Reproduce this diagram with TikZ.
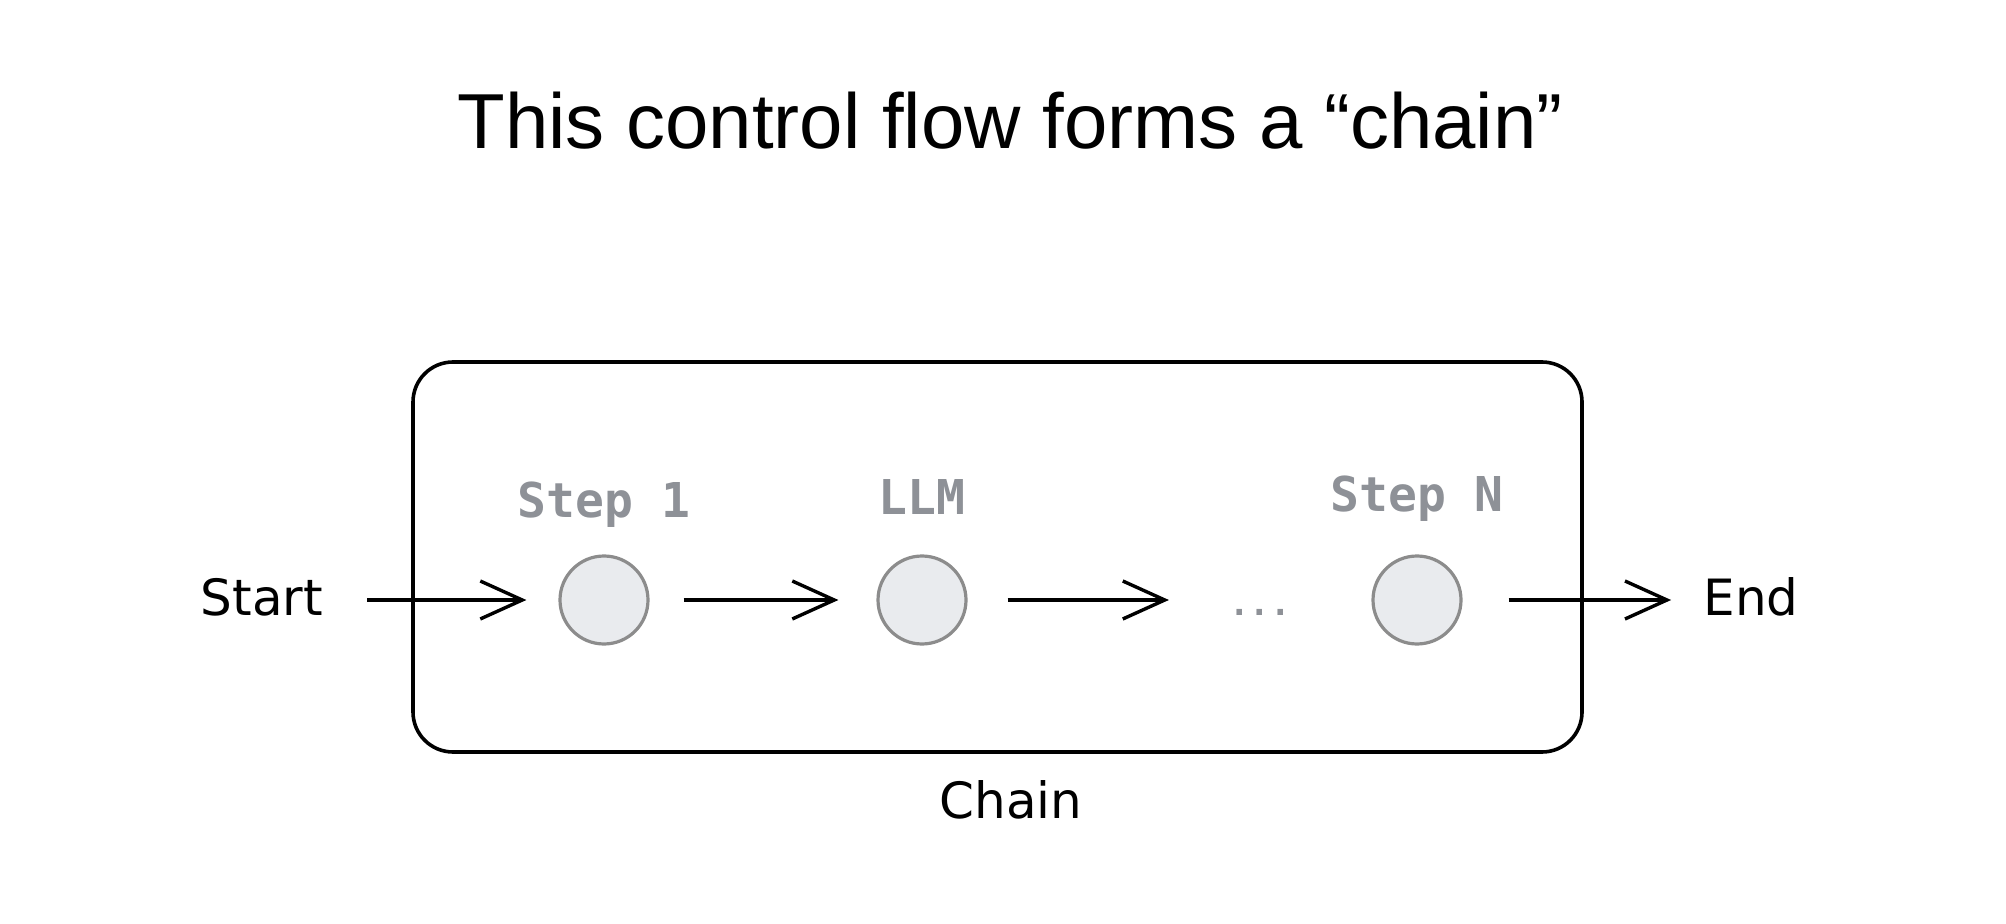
\documentclass[tikz,border=0pt]{standalone}
\usepackage{fontspec}
\setmainfont{Liberation Sans}
\newfontfamily\handfont{DejaVu Sans}
\newfontfamily\monofont{DejaVu Sans Mono}
\usetikzlibrary{arrows.meta,calc}
\definecolor{circfill}{HTML}{E9EBEE}
\definecolor{circdraw}{HTML}{8C8C8C}
\definecolor{labgray}{HTML}{8E9197}
\begin{document}
\begin{tikzpicture}[x=0.5pt,y=-0.5pt,
  stepnode/.style={circle,draw=circdraw,fill=circfill,line width=1.6pt,minimum size=44pt,inner sep=0pt},
  steplabel/.style={text=labgray,font=\monofont\bfseries\fontsize{24}{28}\selectfont,inner sep=0pt},
  handtext/.style={font=\handfont\fontsize{25}{30}\selectfont,inner sep=0pt},
  flow/.style={line width=1.7pt,-{Straight Barb[length=21pt,width=19pt,line width=1.7pt]}},
  chainbox/.style={draw,line width=1.8pt,rounded corners=20pt,minimum width=584.5pt,minimum height=195pt,inner sep=0pt}]
\useasboundingbox (0,0) rectangle (2006,924);
\node[font=\fontsize{39}{46}\selectfont,inner sep=0pt] (title) at (1010,121) {This control flow forms a “chain”};
\node[chainbox] (box) at (997.5,557) {};
\node[stepnode] (s1) at (604,600) {};
\node[stepnode] (llm) at (922,600) {};
\node[stepnode] (sn) at (1417,600) {};
\node[steplabel] (l1) at (604,505) {Step 1};
\node[steplabel] (l2) at (922,497) {LLM};
\node[steplabel] (l3) at (1417,499) {Step N};
\node[text=labgray,font=\monofont\bfseries\fontsize{17}{20}\selectfont,inner sep=0pt] (dots) at (1260,612) {...};
\node[handtext] (start) at (262,597) {Start};
\node[handtext] (end) at (1751,597) {End};
\node[handtext] (chain) at (1011,800) {Chain};
\draw[flow] ($(start.east |- s1)+(22pt,0)$) -- ($(s1.west)+(-16pt,0)$);
\draw[flow] ($(s1.east)+(17pt,0)$) -- ($(llm.west)+(-19pt,0)$);
\draw[flow,line width=2.3pt] ($(llm.east)+(20pt,0)$) -- ($(dots.west |- llm)+(-30pt,0)$);
\draw[flow] ($(sn.east)+(23pt,0)$) -- ($(end.west |- sn)+(-16pt,0)$);
\end{tikzpicture}
\end{document}
